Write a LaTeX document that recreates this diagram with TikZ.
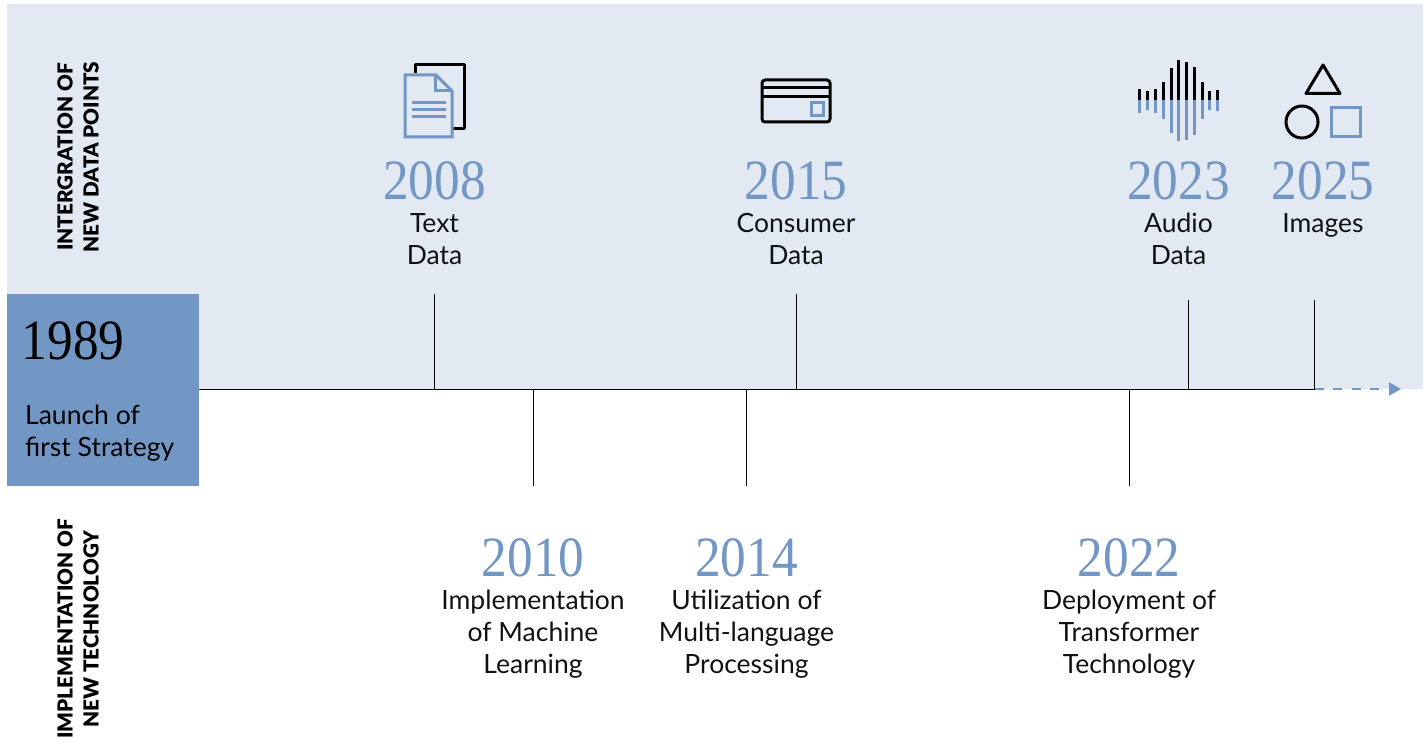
\documentclass[tikz,border=0pt]{standalone}
\usepackage{fontspec}
\setmainfont{Lato}
\newfontfamily\yearfont{Liberation Serif}
\newfontfamily\sidefont{Lato Black}
\usetikzlibrary{arrows.meta}
\definecolor{bandblue}{HTML}{E3E9F3}
\definecolor{midblue}{HTML}{7297C5}
\definecolor{inkblack}{HTML}{111111}
\begin{document}
\begin{tikzpicture}[
    x=1pt, y=-1pt,
    yearlab/.style={font=\yearfont\fontsize{57}{57}\selectfont, text=midblue, xscale=0.9, inner sep=0},
    textlab/.style={font=\fontsize{26.5}{32}\selectfont, text=inkblack, align=center, anchor=north, inner sep=0},
    sidelab/.style={font=\sidefont\fontsize{20.7}{26}\selectfont, text=black, align=center, rotate=90, inner sep=0},
    tick/.style={draw=black, line width=1pt},
    iconk/.style={draw=black, line width=3pt, line join=round},
    iconb/.style={draw=midblue, line width=3pt, line join=miter}
  ]
  \useasboundingbox (0,0) rectangle (1426,738);
  \fill[bandblue] (7,4) rectangle (1423,389);
  \fill[midblue] (7,294) rectangle (199,486);

  % side labels
  \node[sidelab] (sidetop) at (78,157) {INTERGRATION OF\\NEW DATA POINTS};
  \node[sidelab] (sidebot) at (78,629) {IMPLEMENTATION OF\\NEW TECHNOLOGY};

  % start box
  \node[font=\yearfont\fontsize{57}{57}\selectfont, xscale=0.9, text=black, inner sep=0] (y1989) at (73,341) {1989};
  \node[font=\fontsize{26.5}{32}\selectfont, text=black, align=left, anchor=north west, inner sep=0] (launch) at (25,405) {Launch of\\first Strategy};

  % years above
  \node[yearlab] (y2008) at (434.5,181) {2008};
  \node[yearlab] (y2015) at (796,181) {2015};
  \node[yearlab] (y2023) at (1178.5,181) {2023};
  \node[yearlab] (y2025) at (1323,181) {2025};
  \node[textlab] (l2008) at (434.5,213) {Text\\Data};
  \node[textlab] (l2015) at (796,213) {Consumer\\Data};
  \node[textlab] (l2023) at (1178.5,213) {Audio\\Data};
  \node[textlab] (l2025) at (1323,213) {Images};

  % years below
  \node[yearlab] (y2010) at (533,558) {2010};
  \node[yearlab] (y2014) at (746.5,558) {2014};
  \node[yearlab] (y2022) at (1129,558) {2022};
  \node[textlab] (l2010) at (533,590) {Implementation\\of Machine\\Learning};
  \node[textlab] (l2014) at (746.5,590) {Utilization of\\Multi-language\\Processing};
  \node[textlab] (l2022) at (1129,590) {Deployment of\\Transformer\\Technology};

  % axis
  \coordinate (axstart) at (199,389);
  \coordinate (axend) at (1314.5,389);
  \coordinate (axtip) at (1401,389);
  \foreach \nm/\xx/\yy in {a2008/434.5/294, a2015/796/294, a2023/1188/300, a2025/1314.5/300,
                           a2010/533/486, a2014/746.5/486, a2022/1129/486} {
    \coordinate (\nm top) at (\xx,\yy);
    \coordinate (\nm ax) at (\xx,389);
    \draw[tick] (\nm top) -- (\nm ax);
  }
  \draw[tick] (axstart) -- (axend);
  \draw[midblue, line width=2pt, dash pattern=on 9pt off 9.5pt, -{Triangle[length=12pt,width=13pt]}] (axend) -- (axtip);

  % text icon
  \draw[iconk] (415,73) -- (415,64.5) -- (464,64.5) -- (464,129) -- (452,129);
  \draw[iconb] (405,75) -- (436,75) -- (452,91) -- (452,137) -- (405,137) -- cycle;
  \draw[iconb] (435,75) -- (435,91) -- (452,91);
  \foreach \yy in {103,110,117} {
    \draw[midblue, line width=3pt] (412,\yy) -- (446,\yy);
  }

  % card icon
  \draw[iconk, rounded corners=3pt] (762,80) rectangle (830,122);
  \draw[iconk] (762,88) -- (830,88);
  \draw[iconk] (762,97) -- (830,97);
  \draw[iconb] (811,103) rectangle (823,116);

  % audio icon
  \foreach \xx/\up/\dn in {1139.3/89/112.7, 1147.3/91/110, 1155.3/89/112.7, 1163.3/82/119,
                           1171.3/68/133, 1178.3/60/141, 1186.3/62/140, 1194.3/67/135,
                           1202.3/82/119, 1209.3/91/110, 1217.3/90/111} {
    \draw[black, line width=3pt] (\xx,\up) -- (\xx,100);
    \draw[midblue, line width=3pt] (\xx,100) -- (\xx,\dn);
  }

  % image icon
  \draw[iconk] (1323,65) -- (1340,93.5) -- (1306,93.5) -- cycle;
  \draw[iconk] (1302,122) circle (16);
  \draw[iconb] (1331,108) rectangle (1360,137);
\end{tikzpicture}
\end{document}
